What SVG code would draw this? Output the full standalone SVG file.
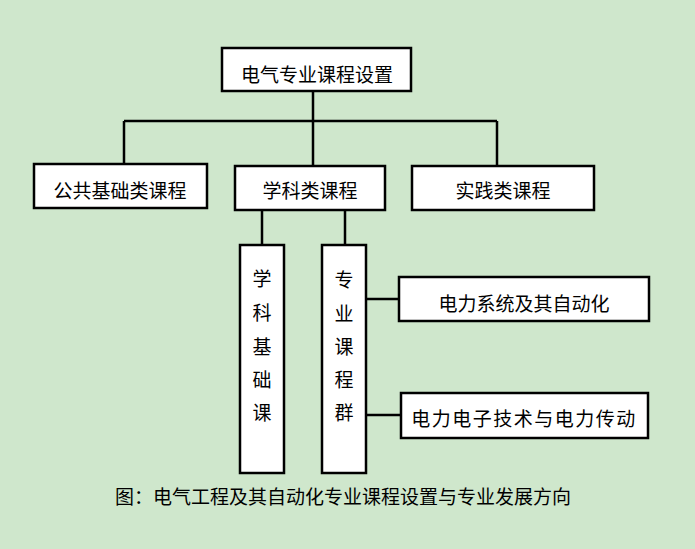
<svg xmlns="http://www.w3.org/2000/svg" width="695" height="549" viewBox="0 0 695 549">
<style>
.box{fill:#fff;stroke:#000;stroke-width:2.5}
.ln{fill:none;stroke:#000;stroke-width:2.5}
text{font-family:"Noto Sans CJK SC","Noto Sans",sans-serif;font-size:19px;fill:#000;text-anchor:middle;dominant-baseline:central}
</style>
<rect width="695" height="549" fill="#CFE7CC"/>
<g id="connectors">
<path class="ln" d="M313,92 V121 M124,121 H497 M124,121 V164 M313,121 V166 M497,121 V166"/>
<path class="ln" d="M262,210 V245 M345,210 V245"/>
<path class="ln" d="M366,299 H399 M366,415 H401"/>
</g>
<g id="root"><rect class="box" x="222" y="48" width="189" height="43"/><text x="317" y="73">电气专业课程设置</text></g>
<g id="gonggong"><rect class="box" x="34" y="164" width="173" height="44"/><text x="120" y="189">公共基础类课程</text></g>
<g id="xueke"><rect class="box" x="235" y="166" width="150" height="44"/><text x="310" y="189">学科类课程</text></g>
<g id="shijian"><rect class="box" x="412" y="166" width="182" height="44"/><text x="503" y="189">实践类课程</text></g>
<g id="xuekejichu"><rect class="box" x="240" y="245" width="44" height="228"/>
<text x="262" y="277">学</text><text x="262" y="311">科</text><text x="262" y="345">基</text><text x="262" y="378">础</text><text x="262" y="411">课</text></g>
<g id="zhuanye"><rect class="box" x="322" y="245" width="44" height="228"/>
<text x="344" y="278" font-size="20">专</text><text x="344" y="312" font-size="20">业</text><text x="344" y="345" font-size="20">课</text><text x="344" y="378" font-size="20">程</text><text x="344" y="411" font-size="20">群</text></g>
<g id="dianli"><rect class="box" x="399" y="277" width="250" height="44"/><text x="524" y="302">电力系统及其自动化</text></g>
<g id="dianzi"><rect class="box" x="401" y="393" width="247" height="45"/><text x="524" y="417" letter-spacing="1.5">电力电子技术与电力传动</text></g>
<g id="caption"><text x="343" y="495">图：电气工程及其自动化专业课程设置与专业发展方向</text></g>
</svg>
